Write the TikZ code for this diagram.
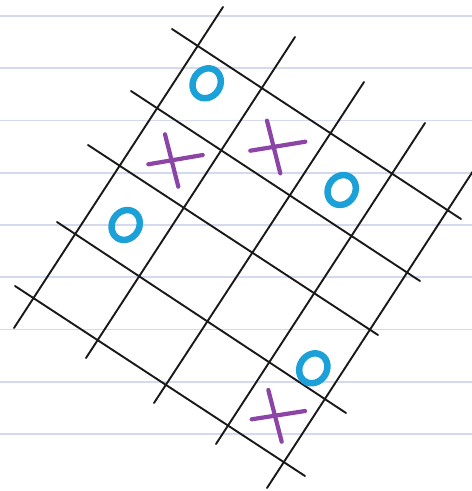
\documentclass[tikz,border=0pt]{standalone}
\usepackage{xcolor}
\definecolor{ruleblue}{RGB}{212,218,238}
\definecolor{noughtblue}{RGB}{28,160,216}
\definecolor{crosspurple}{RGB}{140,68,166}
\begin{document}
\begin{tikzpicture}[x=1pt,y=-1pt,
  rule/.style={ruleblue,line width=1.8pt},
  gridline/.style={black!90,line width=1.9pt,line cap=round},
  nought/.style={noughtblue,line width=6.5pt},
  cross/.style={crosspurple,line width=4.2pt,line cap=round}]
  \useasboundingbox (0,0) rectangle (472,491);
  \clip (0,0) rectangle (472,491);
  \fill[white] (0,0) rectangle (472,491);

  % ruled paper
  \foreach \i in {0,...,8}{
    \pgfmathsetmacro{\y}{16+52.25*\i}
    \draw[rule] (0,\y) -- (472,\y);
  }

  % slanted grid, drawn by hand
  \foreach \xa/\ya/\xb/\yb in {
    172/29/461/219, 131/91/420/281, 88/145/378/335,
    57/222/346/413, 15/286/305/476}{
    \draw[gridline] (\xa,\ya) -- (\xb,\yb);
  }
  \foreach \xa/\ya/\xb/\yb in {
    14/328/223/7, 86/358/295/37, 154/403/364/82,
    216/444/425/123, 267/488/490/145}{
    \draw[gridline] (\xa,\ya) -- (\xb,\yb);
  }

  % noughts
  \foreach \cx/\cy in {206.7/83.3, 341.7/190, 125.7/225, 313.3/368.3}{
    \draw[nought,rotate around={-33:(\cx,\cy)}]
      (\cx,\cy) ellipse [x radius=13.5, y radius=15.5];
  }

  % crosses
  \foreach \ax/\ay/\bx/\by/\cx/\cy/\dx/\dy in {
    148.3/164.3/202.7/155/165/134.3/178.3/186.7,
    250.3/150.7/305.3/141.7/267/120.7/280.3/173.3,
    251.7/419.3/305/411/268.3/390/281.7/441.7}{
    \draw[cross] (\ax,\ay) -- (\bx,\by);
    \draw[cross] (\cx,\cy) -- (\dx,\dy);
  }
\end{tikzpicture}
\end{document}
